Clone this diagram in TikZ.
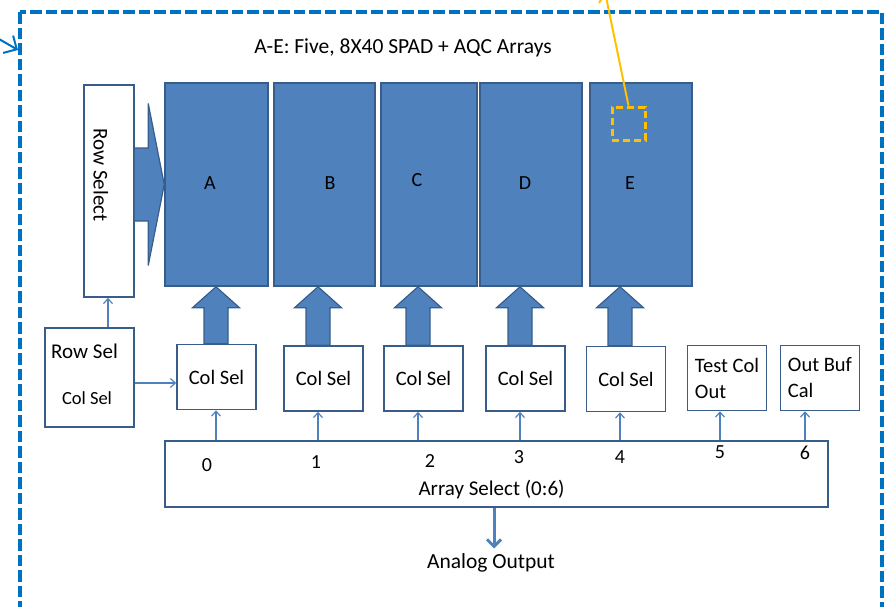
\documentclass[tikz,border=0pt]{standalone}
\usepackage{fontspec}
\setmainfont{Carlito}
\usetikzlibrary{arrows.meta,calc}

\definecolor{arrfill}{HTML}{4F81BD}
\definecolor{arrline}{HTML}{385D8A}
\definecolor{frameblue}{HTML}{0070C0}
\definecolor{spadyellow}{HTML}{FFC000}

\begin{document}
\begin{tikzpicture}[x=1pt, y=-1pt,
    array/.style={draw=arrline, fill=arrfill, line width=1.5pt, minimum height=203pt, inner sep=0pt},
    selbox/.style={draw=arrline, fill=white, line width=1.5pt, minimum width=79pt, minimum height=65pt, inner sep=0pt, font=\fontsize{20.5}{26}\selectfont},
    fatarrow/.style={draw=arrline, fill=arrfill, line width=1.2pt, line join=miter},
    thinarrow/.style={draw=arrfill, line width=1.2pt, -{Straight Barb[length=5pt,width=9pt]}},
    lbl/.style={font=\fontsize{20}{24}\selectfont, inner sep=0pt, anchor=base}]
    \useasboundingbox (0,0) rectangle (884,606);

    % outer frame and the arrow coming into it
    \draw[frameblue, line width=3.5pt, dash pattern=on 11.5pt off 4pt] (20,12) rectangle (882,610);
    \coordinate (fin) at (-20,28);
    \coordinate (fend) at (18,50);
    \draw[frameblue, line width=2pt, -{Straight Barb[length=10pt,width=20pt]}] (fin) -- (fend);

    \node[lbl, font=\fontsize{21.5}{25}\selectfont] (title) at (403,53) {A-E: Five, 8X40 SPAD + AQC Arrays};

    % the five arrays
    \node[array, minimum width=103pt] (A) at (216.5,184.5) {};
    \node[array, minimum width=101pt] (B) at (324.5,184.5) {};
    \node[array, minimum width=96pt] (C) at (429,184.5) {};
    \node[array, minimum width=102pt] (D) at (531,184.5) {};
    \node[array, minimum width=102pt] (E) at (641,184.5) {};
    \node[lbl] (tA) at (210,189) {A};
    \node[lbl] (tB) at (330,189) {B};
    \node[lbl] (tC) at (417,186.5) {C};
    \node[lbl] (tD) at (525,189) {D};
    \node[lbl] (tE) at (630,189) {E};

    % one SPAD pixel
    \node[draw=spadyellow, line width=3pt, dash pattern=on 7pt off 4pt, minimum size=33pt, inner sep=0pt] (spad) at (628.5,123.5) {};
    \coordinate (spadend) at (605,-8);
    \draw[spadyellow, line width=2pt, -{Straight Barb[length=8pt,width=16pt]}] (spad.north) -- (spadend);

    % row select
    \node[draw=arrline, line width=1.5pt, minimum width=50pt, minimum height=212pt, inner sep=0pt] (rs) at (109,191) {};
    \node[lbl, font=\fontsize{21}{24}\selectfont, rotate=-90] (trs) at (93.5,175) {Row Select};
    \fill[fatarrow] ($(rs.east |- A.west)+(0,-36.5)$) -- ($(A.west)+(-16,-36.5)$) -- ($(A.west)+(-16,-81)$)
        -- (A.west) -- ($(A.west)+(-16,81)$) -- ($(A.west)+(-16,36.5)$) -- ($(rs.east |- A.west)+(0,36.5)$);

    % row/col select decoder
    \node[draw=arrline, line width=1.5pt, minimum width=89pt, minimum height=99pt, inner sep=0pt] (rsel) at (89.5,377.5) {};
    \node[lbl, font=\fontsize{21}{24}\selectfont, anchor=base west] (trsel) at (51,358) {Row Sel};
    \node[lbl, font=\fontsize{18.5}{21}\selectfont] (tcsel) at (87,404) {Col Sel};
    \draw[thinarrow] (108,0 |- rsel.north) -- (108,0 |- rs.south);

    % column selects
    \node[selbox] (c0) at (216.5,377) {Col Sel};
    \node[selbox] (c1) at (323.5,378.5) {Col Sel};
    \node[selbox] (c2) at (423.5,378.5) {Col Sel};
    \node[selbox] (c3) at (525.5,378.5) {Col Sel};
    \node[selbox] (c4) at (626,379) {Col Sel};
    \node[selbox, align=left] (ctest) at (727,378) {Test Col\\Out};
    \node[selbox, align=left] (cbuf) at (820,378) {Out Buf\\Cal};
    \draw[thinarrow] ([yshift=-5.5pt]rsel.east) -- ([yshift=-5.5pt]rsel.east -| c0.west);

    \foreach \x/\c/\a in {216/c0/A, 318/c1/B, 418/c2/C, 520/c3/D, 620/c4/E}
        \fill[fatarrow] ($(\x,0 |- \c.north)+(-12,0)$) -- ($(\x,0 |- \a.south)+(-12,21)$) -- ($(\x,0 |- \a.south)+(-23.5,21)$)
            -- (\x,0 |- \a.south) -- ($(\x,0 |- \a.south)+(23.5,21)$) -- ($(\x,0 |- \a.south)+(12,21)$) -- ($(\x,0 |- \c.north)+(12,0)$) -- cycle;

    % array select
    \node[draw=arrline, line width=1.5pt, minimum width=663pt, minimum height=66pt, inner sep=0pt] (sel) at (496.5,474) {};
    \node[lbl, font=\fontsize{21}{24}\selectfont] (tsel) at (491.5,495.5) {Array Select (0:6)};
    \foreach \x/\b in {216/c0, 318/c1, 418/c2, 520/c3, 620/c4, 720/ctest, 805/cbuf}
        \draw[thinarrow] (\x,0 |- sel.north) -- (\x,0 |- \b.south);
    \foreach \x/\y/\n in {207/471/0, 316/468/1, 430/467/2, 519/463/3, 620/463/4, 720/458/5, 805/459/6}
        \node[lbl] (n\n) at (\x,\y) {\n};

    \node[lbl, font=\fontsize{21.5}{24}\selectfont, anchor=center] (out) at (491,563) {Analog Output};
    \draw[arrfill, line width=3pt, shorten >=5pt, -{Straight Barb[length=7pt,width=14pt]}] (494,0 |- sel.south) -- (494,0 |- out.north);
\end{tikzpicture}
\end{document}
